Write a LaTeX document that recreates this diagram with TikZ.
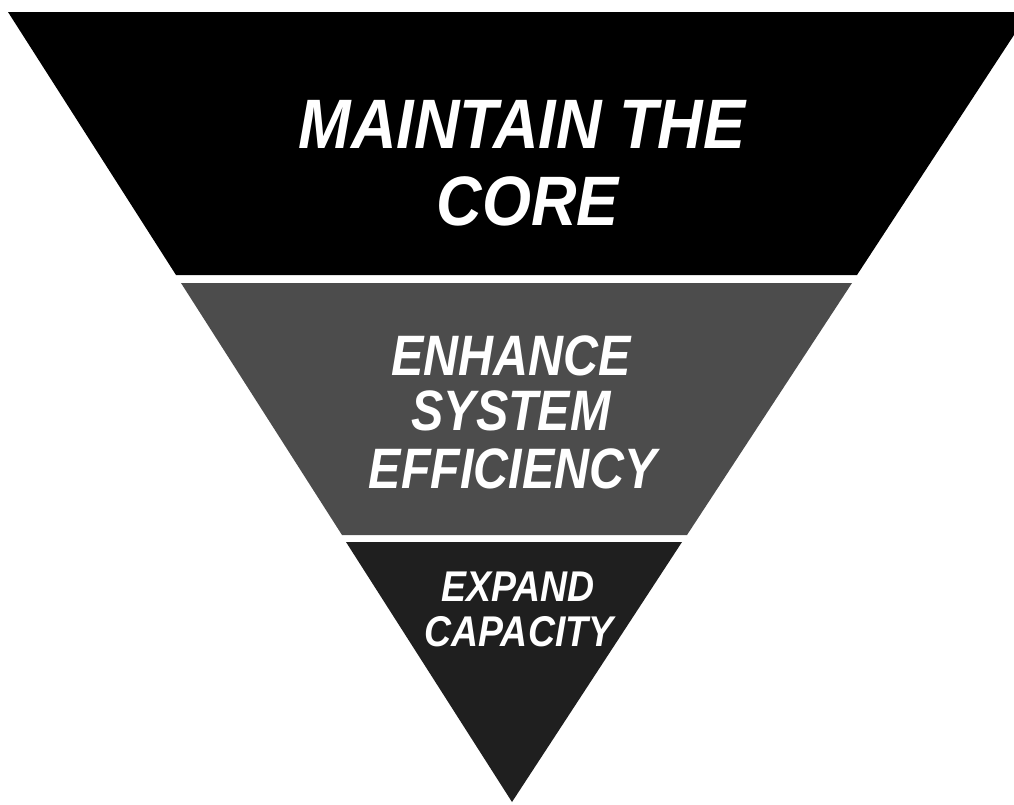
\documentclass[tikz,border=0pt]{standalone}
\usepackage{fontspec}
\setmainfont{Liberation Sans}
\begin{document}
\begin{tikzpicture}[x=1pt,y=-1pt,
  bandtext/.style={text=white,anchor=base,inner sep=0pt,text depth=0pt},
  toptext/.style={bandtext,font=\fontsize{70}{70}\selectfont\bfseries\itshape,xscale=0.9},
  midtext/.style={bandtext,font=\fontsize{57}{57}\selectfont\bfseries\itshape,xscale=0.85},
  bottext/.style={bandtext,font=\fontsize{43}{43}\selectfont\bfseries\itshape,xscale=0.87}]
\useasboundingbox (0,0) rectangle (1014,804);
\clip (0,0) rectangle (1014,804);
% band corners
\coordinate (t1) at (8,12);
\coordinate (t2) at (1029,12);
\coordinate (t3) at (857,275);
\coordinate (t4) at (176,275);
\coordinate (m1) at (181,283);
\coordinate (m2) at (852,283);
\coordinate (m3) at (687,535);
\coordinate (m4) at (342,535);
\coordinate (b1) at (346,542);
\coordinate (b2) at (682,542);
\coordinate (apex) at (512,802);
\fill[black] (t1) -- (t2) -- (t3) -- (t4) -- cycle;
\fill[black!70] (m1) -- (m2) -- (m3) -- (m4) -- cycle;
\fill[black!88] (b1) -- (b2) -- (apex) -- cycle;
% texts
\node[toptext] (maintain) at (522,148) {MAINTAIN THE};
\node[toptext] (core) at (528,225) {CORE};
\node[midtext] (enhance) at (511,375) {ENHANCE};
\node[midtext] (system) at (511,430) {SYSTEM};
\node[midtext] (efficiency) at (513,488) {EFFICIENCY};
\node[bottext] (expand) at (518,601) {EXPAND};
\node[bottext] (capacity) at (519,646) {CAPACITY};
\end{tikzpicture}
\end{document}
